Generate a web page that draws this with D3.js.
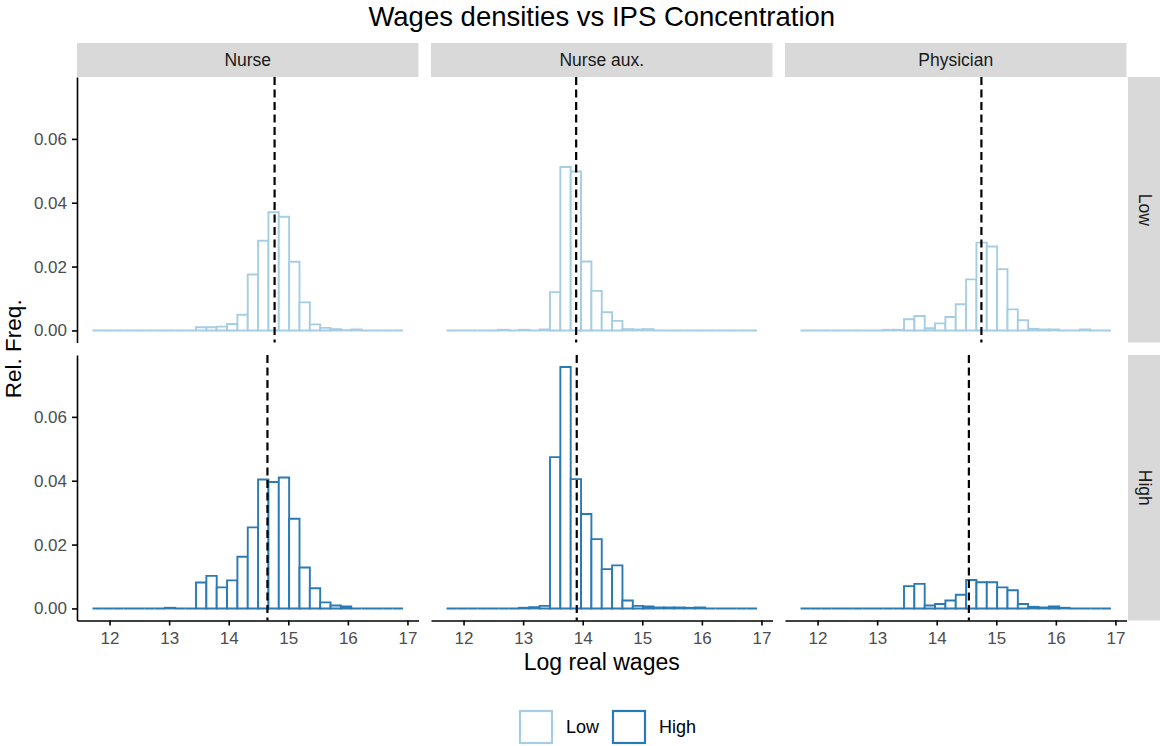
<!DOCTYPE html>
<html>
<head>
<meta charset="utf-8">
<script src="https://cdn.jsdelivr.net/npm/d3@7"></script>
<style>
  body { margin: 0; background: #fff; }
  text { font-family: "Liberation Sans", Arial, sans-serif; }
</style>
</head>
<body>
<svg width="1160" height="746"></svg>
<script>
const jobs = ['Nurse', 'Nurse aux.', 'Physician'];
const levels = ['Low', 'High'];

// histogram bins (30 bins, shared by all panels)
const binStart = 11.714;
const binWidth = 0.1737;

// relative frequency per bin
const nurseLow  = [0,0,0,0,0,0,0,0,0,0, .0010,.0010,.0012,.0020,.0049,.0175,.0281,.0370,.0356,.0215, .0088,.0019,.0008,.0004,.0001,.0003,0,0,0,0];
const nurseHigh = [0,0,0,0,0,0,0,.0002,0,0, .0081,.0102,.0066,.0088,.0162,.0254,.0404,.0396,.0410,.0281, .0128,.0063,.0019,.0009,.0006,0,0,0,0,0];
const auxLow    = [0,0,0,0,0,.0002,0,.0002,0,.0003, .0120,.0512,.0498,.0216,.0124,.0057,.0030,.0004,.0003,.0004, 0,0,0,0,0,0,0,0,0,0];
const auxHigh   = [0,0,0,0,0,0,0,.0002,.0004,.0008, .0474,.0756,.0405,.0296,.0217,.0123,.0135,.0025,.0008,.0006, .0003,.0003,.0003,.0002,.0003,0,0,0,0,0];
const physLow   = [0,0,0,0,0,0,0,0,.0002,.0002, .0035,.0045,.0007,.0022,.0042,.0082,.0160,.0275,.0263,.0192, .0066,.0032,.0005,.0003,.0003,0,0,.0003,0,0];
const physHigh  = [0,0,0,0,0,0,0,0,0,0, .0070,.0077,.0009,.0014,.0025,.0043,.0089,.0082,.0082,.0066, .0057,.0014,.0005,.0003,.0006,.0002,0,0,0,0];

// mean log wage (dashed lines)
const meanLow  = [14.77, 13.89, 14.75];
const meanHigh = [14.65, 13.90, 14.54];

const xTicks = [12, 13, 14, 15, 16, 17];
const yTicks = [0, 0.02, 0.04, 0.06];
const levelColors = ['#A6CEE3', '#2A7AB6'];

const dens = {
  'Nurse':      { Low: nurseLow, High: nurseHigh },
  'Nurse aux.': { Low: auxLow,   High: auxHigh },
  'Physician':  { Low: physLow,  High: physHigh }
};
const means = { Low: meanLow, High: meanHigh };

const svg = d3.select('svg');
const plotLeft = 77, plotRight = 1126.5, plotTop = 77, plotBottom = 620.5;
const gap = 12.5, stripH = 34;
const panelW = (plotRight - plotLeft - 2 * gap) / 3;
const panelH = (plotBottom - plotTop - gap) / 2;

const nBins = nurseLow.length;
const bins = d3.range(nBins).map(i => [binStart + i * binWidth, binStart + (i + 1) * binWidth]);
const xLo = bins[0][0], xHi = bins[nBins - 1][1];
const xPad = (xHi - xLo) * 0.05;
const x = d3.scaleLinear().domain([xLo - xPad, xHi + xPad]).range([0, panelW]);

const yMax = d3.max(Object.values(dens).flatMap(d => [...d.Low, ...d.High]));
const y = d3.scaleLinear().domain([-0.05 * yMax, 1.05 * yMax]).range([panelH, 0]);

const color = d3.scaleOrdinal().domain(levels).range(levelColors);

// title
svg.append('text')
    .attr('x', (plotLeft + plotRight) / 2)
    .attr('y', 26)
    .attr('text-anchor', 'middle')
    .attr('font-size', 27.5)
    .attr('fill', '#000')
    .text('Wages densities vs IPS Concentration');

// column strips
jobs.forEach((job, c) => {
  const px = plotLeft + c * (panelW + gap);
  svg.append('rect')
      .attr('x', px).attr('y', plotTop - stripH)
      .attr('width', panelW).attr('height', stripH)
      .attr('fill', '#D9D9D9');
  svg.append('text')
      .attr('x', px + panelW / 2).attr('y', plotTop - stripH / 2 + 6)
      .attr('text-anchor', 'middle')
      .attr('font-size', 17.5)
      .attr('fill', '#1A1A1A')
      .text(job);
});

// row strips
levels.forEach((lev, r) => {
  const py = plotTop + r * (panelH + gap);
  svg.append('rect')
      .attr('x', plotRight + 1.5).attr('y', py)
      .attr('width', stripH).attr('height', panelH)
      .attr('fill', '#D9D9D9');
  svg.append('text')
      .attr('transform', `translate(${plotRight + 1.5 + stripH / 2 - 6}, ${py + panelH / 2}) rotate(90)`)
      .attr('text-anchor', 'middle')
      .attr('font-size', 17.5)
      .attr('fill', '#1A1A1A')
      .text(lev);
});

const barPath = (b, v) => {
  const x0 = x(b[0]), x1 = x(b[1]), y0 = y(0), y1 = y(v);
  return `M${x0},${y0}V${y1}H${x1}V${y0}Z`;
};

levels.forEach((lev, r) => {
  jobs.forEach((job, c) => {
    const px = plotLeft + c * (panelW + gap);
    const py = plotTop + r * (panelH + gap);
    const g = svg.append('g').attr('transform', `translate(${px}, ${py})`);

    g.selectAll('path.bar')
      .data(dens[job][lev])
      .enter()
      .append('path')
        .attr('class', 'bar')
        .attr('d', (d, i) => barPath(bins[i], d))
        .attr('fill', '#fff')
        .attr('stroke', color(lev))
        .attr('stroke-width', 1.9);

    g.append('line')
        .attr('x1', x(means[lev][c])).attr('x2', x(means[lev][c]))
        .attr('y1', 0).attr('y2', panelH)
        .attr('stroke', '#000')
        .attr('stroke-width', 2.2)
        .attr('stroke-dasharray', '8,4.5');

    if (c === 0) {
      const ax = g.append('g')
          .call(d3.axisLeft(y).tickValues(yTicks).tickFormat(d3.format('.2f'))
                .tickSize(5).tickSizeOuter(0).tickPadding(5));
      ax.select('.domain').attr('stroke', '#000').attr('stroke-width', 1.6);
      ax.selectAll('.tick line').attr('stroke', '#000').attr('stroke-width', 1.6);
      ax.selectAll('.tick text').attr('font-size', 17).attr('fill', '#4D4D4D')
          .attr('font-family', '"Liberation Sans", Arial, sans-serif');
    }
    if (r === 1) {
      const ax = g.append('g')
          .attr('transform', `translate(0, ${panelH})`)
          .call(d3.axisBottom(x).tickValues(xTicks).tickFormat(d3.format('d'))
                .tickSize(5).tickSizeOuter(0).tickPadding(6));
      ax.select('.domain').attr('stroke', '#000').attr('stroke-width', 1.6);
      ax.selectAll('.tick line').attr('stroke', '#000').attr('stroke-width', 1.6);
      ax.selectAll('.tick text').attr('font-size', 17).attr('fill', '#4D4D4D')
          .attr('font-family', '"Liberation Sans", Arial, sans-serif');
    }
  });
});

// axis titles
svg.append('text')
    .attr('x', (plotLeft + plotRight) / 2)
    .attr('y', 670)
    .attr('text-anchor', 'middle')
    .attr('font-size', 23)
    .attr('fill', '#000')
    .text('Log real wages');

svg.append('text')
    .attr('transform', `translate(21, ${(plotTop + plotBottom) / 2}) rotate(-90)`)
    .attr('text-anchor', 'middle')
    .attr('font-size', 22.5)
    .attr('fill', '#000')
    .text('Rel. Freq.');

// legend
const legendX = [519, 612];
levels.forEach((lev, i) => {
  svg.append('rect')
      .attr('x', legendX[i] + 1).attr('y', 711)
      .attr('width', 32).attr('height', 32)
      .attr('fill', '#fff')
      .attr('stroke', color(lev))
      .attr('stroke-width', 2.2);
  svg.append('text')
      .attr('x', legendX[i] + 47).attr('y', 733)
      .attr('font-size', 18)
      .attr('fill', '#000')
      .text(lev);
});
</script>
</body>
</html>
